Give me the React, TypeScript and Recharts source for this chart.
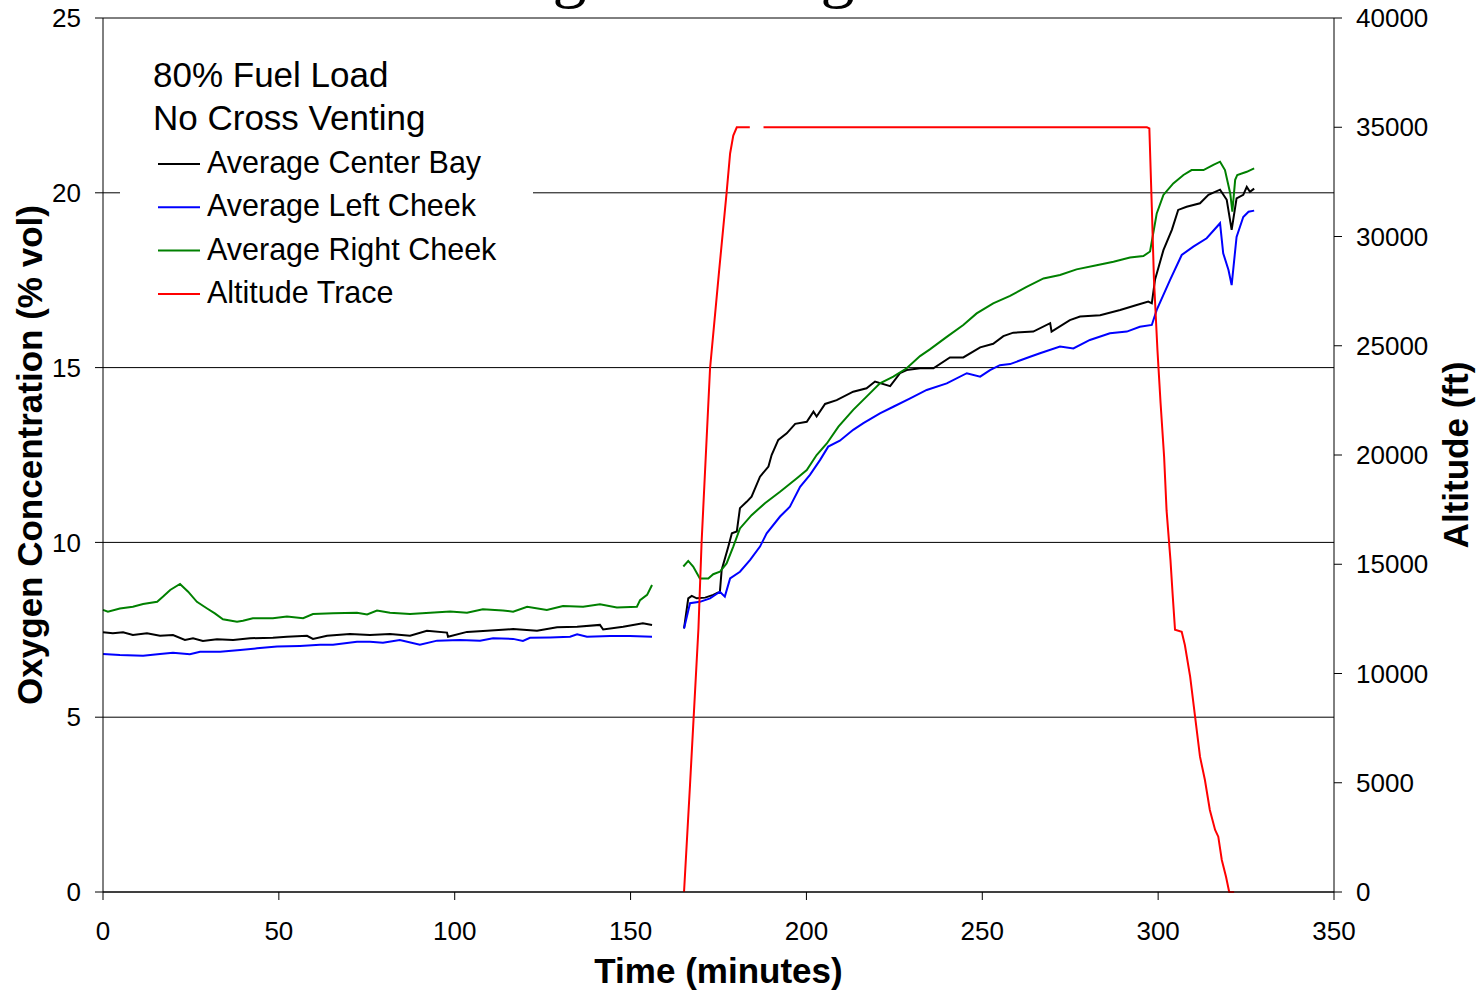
import {
  CartesianGrid, Label, Legend, Line, LineChart, XAxis, YAxis,
} from 'recharts';

const W = 1482;
const H = 992;
const FONT = '"Liberation Sans", Arial, Helvetica, sans-serif';

// time axis + tick labels
const timeTicks = [0, 50, 100, 150, 200, 250, 300, 350];
const o2Ticks = [0, 5, 10, 15, 20, 25];
const altTicks = [0, 5000, 10000, 15000, 20000, 25000, 30000, 35000, 40000];

const seriesNames = ['Average Center Bay', 'Average Left Cheek', 'Average Right Cheek', 'Altitude Trace'];

// Average Center Bay (% vol); null = no data between the two ground runs
const centerBayTime = [
  0, 2.8, 5.7, 8.5, 12.5, 16.2, 19.9, 23.3, 25.6, 28.4, 32.4, 37.0, 41.8, 48.3, 52.3, 58.0,
  59.7, 63.7, 70.2, 75.9, 81.6, 87.3, 92.1, 97.8, 98.1, 103.5, 109.2, 116.6, 123.4, 129.1,
  134.8, 141.3, 142.2, 147.9, 153.5, 156.1, 160,
  165.2, 166.4, 167.4, 168.8, 171.2, 173.5, 175.4, 175.9, 177.8, 178.8, 180.2, 181.1, 183.0,
  184.4, 186.8, 189.2, 190.1, 192.0, 194.4, 196.8, 200.1, 202.0, 202.9, 205.3, 208.6, 213.3,
  217.1, 219.5, 223.8, 226.6, 228.5, 232.3, 236.1, 240.8, 244.6, 249.4, 253.1, 256.0, 258.8,
  264.5, 269.3, 269.7, 274.9, 277.8, 283.5, 289.2, 293.9, 297.2, 298.2, 299.1, 301.5, 303.9,
  305.7, 308.1, 311.9, 314.3, 317.6, 319.5, 320.9, 322.3, 324.2, 325.2, 326.1, 327.3,
];
const centerBayO2 = [
  7.43, 7.40, 7.43, 7.35, 7.40, 7.33, 7.35, 7.21, 7.26, 7.18, 7.23, 7.21, 7.26, 7.27, 7.30, 7.33,
  7.24, 7.33, 7.38, 7.35, 7.38, 7.33, 7.47, 7.42, 7.30, 7.44, 7.47, 7.52, 7.47, 7.57,
  7.59, 7.64, 7.51, 7.59, 7.69, 7.64, null,
  7.54, 8.40, 8.47, 8.40, 8.42, 8.50, 8.59, 9.21, 9.88, 10.26, 10.31, 10.98, 11.16,
  11.31, 11.88, 12.17, 12.50, 12.93, 13.12, 13.39, 13.45, 13.74, 13.60, 13.96, 14.07, 14.31,
  14.41, 14.60, 14.47, 14.84, 14.93, 14.98, 14.98, 15.29, 15.29, 15.58, 15.68, 15.90, 16.00,
  16.03, 16.27, 16.03, 16.36, 16.46, 16.50, 16.65, 16.79, 16.89, 16.84, 17.51, 18.36, 18.94,
  19.51, 19.60, 19.70, 19.94, 20.09, 19.80, 18.94, 19.84, 19.94, 20.17, 20.03, 20.12,
];

// Average Left Cheek (% vol)
const leftCheekTime = [
  0, 4.8, 11.4, 16.2, 19.9, 24.7, 27.6, 33.3, 39.0, 43.8, 49.5, 56.0, 61.7, 65.4, 72.2, 75.9,
  79.6, 84.4, 90.1, 95.0, 101.5, 107.2, 110.9, 116.6, 119.4, 121.4, 127.1, 132.8, 134.8, 137.6,
  144.2, 149.8, 156.1, 160,
  165.2, 166.9, 169.7, 172.6, 175.4, 176.8, 178.3, 181.1, 184.0, 186.8, 188.7, 192.5, 195.3,
  198.2, 201.0, 203.9, 206.2, 209.5, 213.3, 216.2, 220.9, 224.7, 229.5, 234.2, 239.9, 245.6,
  249.4, 252.2, 255.0, 257.9, 263.6, 266.4, 272.1, 275.9, 280.6, 286.3, 291.1, 294.8, 298.2,
  299.6, 303.4, 306.7, 310.0, 313.8, 317.6, 318.5, 320.0, 320.9, 322.3, 324.2, 325.7, 327.3,
];
const leftCheekO2 = [
  6.81, 6.78, 6.76, 6.81, 6.84, 6.80, 6.87, 6.87, 6.92, 6.97, 7.02, 7.04, 7.07, 7.07, 7.16, 7.16,
  7.13, 7.21, 7.07, 7.19, 7.21, 7.19, 7.26, 7.24, 7.18, 7.27, 7.28, 7.30, 7.37, 7.30,
  7.32, 7.32, 7.30, null,
  7.54, 8.26, 8.30, 8.40, 8.59, 8.45, 8.97, 9.16, 9.50, 9.88, 10.26, 10.74, 11.02,
  11.59, 11.93, 12.36, 12.74, 12.91, 13.22, 13.41, 13.69, 13.88, 14.12, 14.36, 14.55, 14.84,
  14.74, 14.93, 15.07, 15.10, 15.31, 15.41, 15.60, 15.55, 15.79, 15.98, 16.03, 16.17, 16.22,
  16.65, 17.51, 18.22, 18.46, 18.70, 19.13, 18.27, 17.79, 17.36, 18.74, 19.31, 19.46, 19.49,
];

// Average Right Cheek (% vol)
const rightCheekTime = [
  0, 1.4, 4.8, 8.5, 11.4, 15.4, 17.1, 19.1, 21.9, 24.2, 26.7, 29.6, 31.8, 34.1, 38.1, 39.8,
  42.6, 48.3, 52.3, 56.9, 59.7, 65.4, 72.2, 75.1, 77.9, 81.6, 87.3, 93.0, 98.7, 103.5, 108.0,
  113.7, 116.6, 120.6, 126.2, 130.8, 136.5, 141.3, 146.1, 151.8, 152.7, 154.7, 156.1, 160,
  165.0, 166.4, 167.8, 169.7, 172.1, 173.5, 175.4, 177.3, 179.2, 181.1, 184.4, 188.2, 192.5,
  197.2, 200.1, 202.9, 205.8, 209.1, 213.3, 217.1, 220.9, 224.7, 228.5, 232.3, 235.1, 239.9,
  244.6, 248.4, 253.1, 257.9, 262.6, 267.4, 272.1, 276.8, 282.5, 287.3, 292.0, 295.8, 297.7,
  298.6, 299.6, 301.5, 304.3, 307.2, 309.5, 312.9, 315.7, 317.6, 319.0, 320.5, 321.1, 321.9,
  322.5, 325.2, 327.3,
];
const rightCheekO2 = [
  8.07, 8.02, 8.11, 8.16, 8.24, 8.30, 8.45, 8.64, 8.81, 8.59, 8.30, 8.11, 7.97, 7.80, 7.73, 7.76,
  7.83, 7.83, 7.88, 7.83, 7.95, 7.97, 7.99, 7.94, 8.05, 7.99, 7.95, 7.99, 8.02, 7.99, 8.09,
  8.05, 8.02, 8.16, 8.07, 8.18, 8.16, 8.23, 8.14, 8.16, 8.35, 8.50, 8.78, null,
  9.31, 9.47, 9.31, 8.97, 8.97, 9.09, 9.16, 9.40, 9.88, 10.40, 10.78, 11.12, 11.45,
  11.83, 12.07, 12.50, 12.83, 13.31, 13.79, 14.17, 14.55, 14.74, 14.98, 15.33, 15.52, 15.88,
  16.22, 16.55, 16.84, 17.05, 17.31, 17.55, 17.65, 17.81, 17.93, 18.03, 18.15, 18.19, 18.32,
  18.84, 19.41, 19.94, 20.27, 20.51, 20.65, 20.65, 20.80, 20.89, 20.65, 19.98, 19.46, 20.37,
  20.51, 20.60, 20.70,
];

// Altitude trace (ft), short dropout near 186 min
const altitudeTime = [
  165.2, 166.9, 169.3, 170.2, 172.6, 175.2, 177.3, 178.3, 179.2, 180.2, 183.9, 185.8, 187.8,
  296.8, 297.5, 298.2, 298.8, 299.8, 300.7, 301.7, 302.4, 303.5, 304.1, 304.8, 306.7, 307.6,
  309.1, 310.5, 311.9, 313.3, 314.7, 316.2, 317.1, 318.1, 319.3, 320.2, 321.6,
];
const altitudeFt = [
  0, 4900, 12070, 16030, 23970, 28470, 32000, 33800, 34620, 35000, 35000, null, 35000,
  35000, 34950, 31350, 28075, 24807, 22354, 19910, 17452, 15200, 13670, 12000, 11914, 11305,
  9855, 8023, 6192, 5126, 3753, 2838, 2531, 1465, 700, 0, 0,
];

const zip = (ts: number[], vs: (number | null)[]) => ts.map((t, i) => ({ t, v: vs[i] }));

const centerBay = zip(centerBayTime, centerBayO2);
const leftCheek = zip(leftCheekTime, leftCheekO2);
const rightCheek = zip(rightCheekTime, rightCheekO2);
const altitude = zip(altitudeTime, altitudeFt);

const tick = { fill: '#000', fontSize: 26, fontFamily: FONT };
const axisLabel = { fill: '#000', fontSize: 35, fontWeight: 700, fontFamily: FONT };

function LegendBox({ payload }: { payload?: any[] }) {
  // keep the series order of the plot, not the alphabetical default
  const items = [...(payload ?? [])].sort(
    (a, b) => seriesNames.indexOf(a.value) - seriesNames.indexOf(b.value),
  );
  return (
    <svg width={413} height={275} style={{ display: 'block' }}>
      <g fontFamily={FONT} fill="#000">
        <text x={33} y={42} fontSize={35}>80% Fuel Load</text>
        <text x={33} y={85} fontSize={35}>No Cross Venting</text>
        {items.map((p, i) => {
          const base = 128 + i * 43.3;
          return (
            <g key={p.value}>
              <line x1={38} x2={80} y1={base - 9} y2={base - 9} stroke={p.color} strokeWidth={2} />
              <text x={87} y={base} fontSize={30.5}>{p.value}</text>
            </g>
          );
        })}
      </g>
    </svg>
  );
}

export default function App() {
  return (
    <div style={{ position: 'absolute', left: 0, top: 0, width: W, height: H, background: '#fff', overflow: 'hidden' }}>
      <LineChart width={W} height={H} margin={{ top: 18, right: 0, bottom: 0, left: 0 }}>
        <CartesianGrid yAxisId="o2" vertical={false} stroke="#000" strokeWidth={1} />
        <XAxis
          dataKey="t"
          type="number"
          domain={[0, 350]}
          ticks={timeTicks}
          height={100}
          tick={tick}
          tickSize={8}
          tickMargin={22}
          axisLine={{ stroke: '#000' }}
          tickLine={{ stroke: '#000' }}
        >
          <Label
            content={({ viewBox }: any) => (
              <text x={viewBox.x + viewBox.width / 2} y={983} textAnchor="middle" {...axisLabel}>
                Time (minutes)
              </text>
            )}
          />
        </XAxis>
        <YAxis
          yAxisId="o2"
          width={103}
          domain={[0, 25]}
          ticks={o2Ticks}
          tick={tick}
          tickSize={8}
          tickMargin={14}
          axisLine={{ stroke: '#000' }}
          tickLine={{ stroke: '#000' }}
        >
          <Label
            content={({ viewBox }: any) => {
              const cy = viewBox.y + viewBox.height / 2;
              return (
                <text x={42} y={cy} textAnchor="middle" transform={`rotate(-90 42 ${cy})`} {...axisLabel}>
                  Oxygen Concentration (% vol)
                </text>
              );
            }}
          />
        </YAxis>
        <YAxis
          yAxisId="alt"
          orientation="right"
          width={148}
          domain={[0, 40000]}
          ticks={altTicks}
          tick={tick}
          tickSize={8}
          tickMargin={14}
          axisLine={{ stroke: '#000' }}
          tickLine={{ stroke: '#000' }}
        >
          <Label
            content={({ viewBox }: any) => {
              const cy = viewBox.y + viewBox.height / 2;
              const lx = viewBox.x + 134;
              return (
                <text x={lx} y={cy} textAnchor="middle" transform={`rotate(-90 ${lx} ${cy})`} {...axisLabel}>
                  Altitude (ft)
                </text>
              );
            }}
          />
        </YAxis>
        <Legend
          layout="vertical"
          align="center"
          verticalAlign="middle"
          wrapperStyle={{ left: 120, top: 45, width: 413, height: 275, background: '#fff' }}
          content={(props: any) => <LegendBox payload={props.payload} />}
        />
        <Line yAxisId="o2" data={centerBay} dataKey="v" name={seriesNames[0]} stroke="#000000"
          strokeWidth={2} dot={false} activeDot={false} isAnimationActive={false} />
        <Line yAxisId="o2" data={leftCheek} dataKey="v" name={seriesNames[1]} stroke="#0000FF"
          strokeWidth={2} dot={false} activeDot={false} isAnimationActive={false} />
        <Line yAxisId="o2" data={rightCheek} dataKey="v" name={seriesNames[2]} stroke="#008000"
          strokeWidth={2} dot={false} activeDot={false} isAnimationActive={false} />
        <Line yAxisId="alt" data={altitude} dataKey="v" name={seriesNames[3]} stroke="#FF0000"
          strokeWidth={2} dot={false} activeDot={false} isAnimationActive={false} />
      </LineChart>
      {/* chart title, mostly above the top edge of the page as in the source */}
      <svg width={W} height={H} style={{ position: 'absolute', left: 0, top: 0, pointerEvents: 'none' }}>
        <text x={477} y={-5} fontSize={68} fontFamily='"Liberation Serif", "Times New Roman", serif' fill="#000">
          Flight Testing
        </text>
      </svg>
    </div>
  );
}
